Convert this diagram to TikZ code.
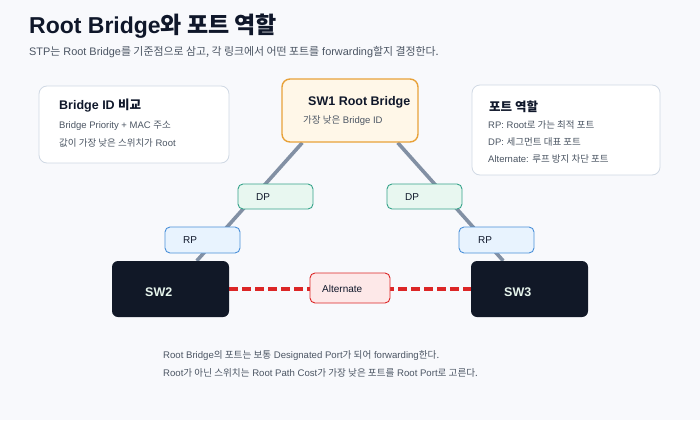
\documentclass[tikz,border=0pt]{standalone}
\usepackage{fontspec}
\setmainfont{Liberation Sans}
\newfontfamily\krfont{Noto Sans CJK KR}
\newcommand{\kr}[1]{{\krfont #1}}
\usetikzlibrary{calc}
\pgfdeclarelayer{bg}
\pgfdeclarelayer{links}
\pgfsetlayers{bg,links,main}

\definecolor{pagebg}{HTML}{F8F9FC}
\definecolor{ink}{HTML}{0F172A}
\definecolor{muted}{HTML}{4B5563}
\definecolor{panelline}{HTML}{D0D9E4}
\definecolor{rootline}{HTML}{E8A23A}
\definecolor{rootfill}{HTML}{FFF7E8}
\definecolor{dpline}{HTML}{36A38A}
\definecolor{dpfill}{HTML}{E8F7F0}
\definecolor{rpline}{HTML}{4A90D9}
\definecolor{rpfill}{HTML}{E8F3FE}
\definecolor{altline}{HTML}{DC2626}
\definecolor{altfill}{HTML}{FDE8E8}
\definecolor{swfill}{HTML}{111827}
\definecolor{swtext}{HTML}{E6F4EC}
\definecolor{linkgray}{HTML}{8290A4}

\begin{document}
\begin{tikzpicture}[x=1pt,y=-1pt,
	box/.style={rectangle,rounded corners=8pt,inner sep=0pt},
	panel/.style={box,draw=panelline,fill=white,line width=0.8pt},
	tag/.style={box,rounded corners=5pt,line width=0.9pt,minimum width=75pt,minimum height=25pt},
	switch/.style={box,rounded corners=6pt,fill=swfill,minimum width=117pt,minimum height=56pt},
	txt/.style={anchor=base west,inner sep=0pt,text=muted,font=\fontsize{9.5}{11}\selectfont},
	head/.style={anchor=base west,inner sep=0pt,text=ink,font=\fontsize{12.5}{15}\selectfont\bfseries},
	link/.style={linkgray,line width=3.6pt},
	block/.style={altline,line width=3.4pt,dash pattern=on 9pt off 4pt}]
	\begin{pgfonlayer}{bg}
		\fill[pagebg] (0,0) rectangle (700,420);
	\end{pgfonlayer}
	\useasboundingbox (0,0) rectangle (700,420);

	% title
	\node[anchor=base west,inner sep=0pt,text=ink,font=\fontsize{23}{27}\selectfont\bfseries] (title) at (29,34) {Root Bridge\kr{와 포트 역할}};
	\node[anchor=base west,inner sep=0pt,text=muted,font=\fontsize{10.9}{13}\selectfont] (sub) at (29,56) {STP\kr{는} Root Bridge\kr{를 기준점으로 삼고, 각 링크에서 어떤 포트를} forwarding\kr{할지 결정한다.}};

	% side panels
	\node[panel,minimum width=190pt,minimum height=77pt] (bid) at (134,124.5) {};
	\node[head] (bidh) at (59,109) {Bridge ID \kr{비교}};
	\node[txt] (bid1) at (59,128) {Bridge Priority + MAC \kr{주소}};
	\node[txt] (bid2) at (59,146) {\kr{값이 가장 낮은 스위치가} Root};

	\node[panel,minimum width=188pt,minimum height=90pt] (role) at (566,130) {};
	\node[head] (roleh) at (489,111) {\kr{포트 역할}};
	\node[txt] (role1) at (488,128) {RP: Root\kr{로 가는 최적 포트}};
	\node[txt] (role2) at (488,145) {DP: \kr{세그먼트 대표 포트}};
	\node[txt] (role3) at (488,162) {Alternate: \kr{루프 방지 차단 포트}};

	% switches
	\node[box,draw=rootline,fill=rootfill,line width=1.4pt,minimum width=136pt,minimum height=63pt] (sw1) at (350,110.5) {};
	\node[head] (sw1h) at (308,105) {SW1 Root Bridge};
	\node[txt] (sw1t) at (303,123) {\kr{가장 낮은} Bridge ID};

	\node[switch] (sw2) at (170.5,289) {};
	\node[switch] (sw3) at (529.5,289) {};
	\node[head,text=swtext] (sw2t) at (145,296) {SW2};
	\node[head,text=swtext] (sw3t) at (504,296) {SW3};

	% port tags
	\node[tag,draw=dpline,fill=dpfill] (dpl) at (275.5,196.5) {};
	\node[tag,draw=dpline,fill=dpfill] (dpr) at (424.5,196.5) {};
	\node[tag,draw=rpline,fill=rpfill,minimum height=26pt] (rpl) at (202.5,240) {};
	\node[tag,draw=rpline,fill=rpfill,minimum height=26pt] (rpr) at (496.5,240) {};
	\node[tag,draw=altline,fill=altfill,minimum width=80pt,minimum height=30pt] (alt) at (350,288) {};
	\foreach \n/\x/\y/\s in {dpl/256/200/DP,dpr/405/200/DP,rpl/183/243/RP,rpr/478/243/RP,alt/322/292/Alternate} {
		\node[txt,text=ink,font=\fontsize{10}{12}\selectfont] (\n t) at (\x,\y) {\s};
	}

	% links
	\begin{pgfonlayer}{links}
		\draw[link] ($(sw1.south west)+(21,0)$) -- ($(sw2.north west)+(85,0)$);
		\draw[link] ($(sw1.south east)+(-21,0)$) -- ($(sw3.north east)+(-85,0)$);
		\draw[block] (sw2.east) -- (sw3.west);
	\end{pgfonlayer}

	% notes
	\node[txt,font=\fontsize{9.6}{12}\selectfont] (note1) at (163,358) {Root Bridge\kr{의 포트는 보통} Designated Port\kr{가 되어} forwarding\kr{한다.}};
	\node[txt,font=\fontsize{9.6}{12}\selectfont] (note2) at (163,376) {Root\kr{가 아닌 스위치는} Root Path Cost\kr{가 가장 낮은 포트를} Root Port\kr{로 고른다.}};
\end{tikzpicture}
\end{document}
